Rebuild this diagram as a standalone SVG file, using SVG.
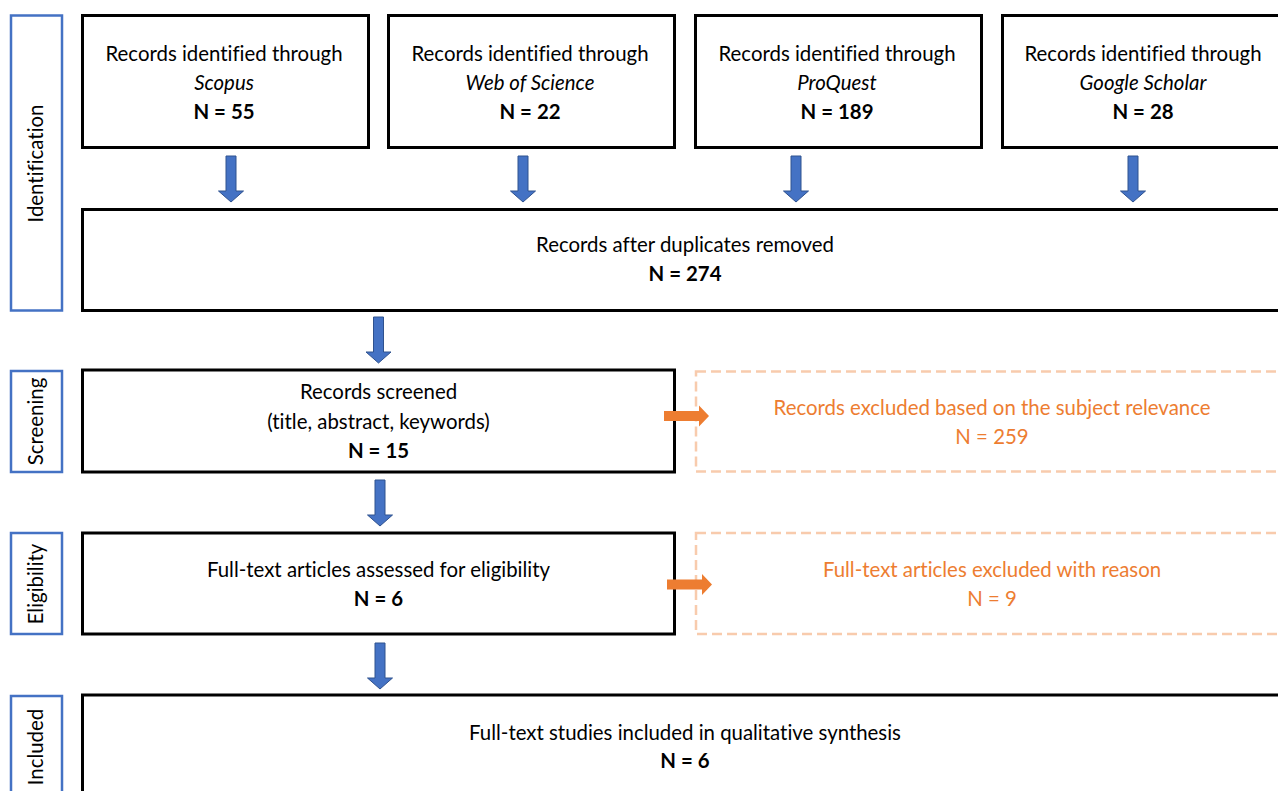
<svg xmlns="http://www.w3.org/2000/svg" width="1278" height="791" viewBox="0 0 1278 791">
  <defs>
    <style>
      .box { fill: #ffffff; stroke: #000000; stroke-width: 3; }
      .phase { fill: #ffffff; stroke: #4472C4; stroke-width: 2.5; }
      .excl { fill: #ffffff; stroke: #F8CBAD; stroke-width: 2.5; stroke-dasharray: 10 5; }
      .t { font-family: Lato, "Open Sans", sans-serif; font-size: 20.4px; fill: #000000; text-anchor: middle; font-variant-ligatures: none; }
      .b { font-weight: bold; }
      .i { font-style: italic; }
      .o { fill: #ED7D31; }
      .down { fill: #4472C4; stroke: #2F528F; stroke-width: 1; }
      .right { fill: #ED7D31; stroke: none; }
    </style>
    <path id="downArrow" d="M-5,0 H5 V35 H12.5 L0,46 L-12.5,35 H-5 Z"/>
    <path id="rightArrow" d="M0,-5 H35 V-10.5 L45,0 L35,10.5 V5 H0 Z"/>
  </defs>
  <rect width="1278" height="791" fill="#ffffff"/>

  <g id="phase-identification">
    <rect class="phase" x="11" y="15.5" width="51" height="295"/>
    <text class="t" transform="translate(43,163.5) rotate(-90)">Identification</text>
  </g>
  <g id="phase-screening">
    <rect class="phase" x="11" y="371" width="51" height="101"/>
    <text class="t" transform="translate(43,421.5) rotate(-90)">Screening</text>
  </g>
  <g id="phase-eligibility">
    <rect class="phase" x="11" y="533" width="51" height="101"/>
    <text class="t" transform="translate(43,584) rotate(-90)">Eligibility</text>
  </g>
  <g id="phase-included">
    <rect class="phase" x="11" y="696" width="51" height="200"/>
    <text class="t" transform="translate(43,747) rotate(-90)">Included</text>
  </g>

  <g id="src-scopus">
    <rect class="box" x="82.5" y="15.5" width="286" height="132"/>
    <text class="t" x="224" y="61">Records identified through</text>
    <text class="t i" x="224" y="90">Scopus</text>
    <text class="t b" x="224" y="119">N = 55</text>
  </g>
  <g id="src-wos">
    <rect class="box" x="388.5" y="15.5" width="286" height="132"/>
    <text class="t" x="530" y="61">Records identified through</text>
    <text class="t i" x="530" y="90">Web of Science</text>
    <text class="t b" x="530" y="119">N = 22</text>
  </g>
  <g id="src-proquest">
    <rect class="box" x="695.5" y="15.5" width="286" height="132"/>
    <text class="t" x="837" y="61">Records identified through</text>
    <text class="t i" x="837" y="90">ProQuest</text>
    <text class="t b" x="837" y="119">N = 189</text>
  </g>
  <g id="src-scholar">
    <rect class="box" x="1002.5" y="15.5" width="286" height="132"/>
    <text class="t" x="1143" y="61">Records identified through</text>
    <text class="t i" x="1143" y="90">Google Scholar</text>
    <text class="t b" x="1143" y="119">N = 28</text>
  </g>

  <g id="dedup">
    <rect class="box" x="82.5" y="209.5" width="1206" height="101"/>
    <text class="t" x="685" y="252">Records after duplicates removed</text>
    <text class="t b" x="685" y="281">N = 274</text>
  </g>

  <g id="screened">
    <rect class="box" x="82.5" y="370" width="592" height="102"/>
    <text class="t" x="378.5" y="399">Records screened</text>
    <text class="t" x="378.5" y="429">(title, abstract, keywords)</text>
    <text class="t b" x="378.5" y="458">N = 15</text>
  </g>
  <g id="excluded-screening">
    <rect class="excl" x="696" y="371.5" width="600" height="100"/>
    <text class="t o" x="992" y="415">Records excluded based on the subject relevance</text>
    <text class="t o" x="992" y="444">N = 259</text>
  </g>

  <g id="eligibility">
    <rect class="box" x="82.5" y="533" width="592" height="101"/>
    <text class="t" x="378.5" y="577">Full-text articles assessed for eligibility</text>
    <text class="t b" x="378.5" y="606">N = 6</text>
  </g>
  <g id="excluded-eligibility">
    <rect class="excl" x="696" y="533" width="600" height="101"/>
    <text class="t o" x="992" y="577">Full-text articles excluded with reason</text>
    <text class="t o" x="992" y="606">N = 9</text>
  </g>

  <g id="included">
    <rect class="box" x="82.5" y="695" width="1206" height="200"/>
    <text class="t" x="685" y="740">Full-text studies included in qualitative synthesis</text>
    <text class="t b" x="685" y="768">N = 6</text>
  </g>

  <g id="connectors">
    <use href="#downArrow" class="down" x="231" y="156"/>
    <use href="#downArrow" class="down" x="523" y="156"/>
    <use href="#downArrow" class="down" x="796" y="156"/>
    <use href="#downArrow" class="down" x="1133" y="156"/>
    <use href="#downArrow" class="down" x="378.5" y="317"/>
    <use href="#downArrow" class="down" x="380" y="480"/>
    <use href="#downArrow" class="down" x="380" y="643"/>
    <use href="#rightArrow" class="right" x="664" y="416"/>
    <use href="#rightArrow" class="right" x="667" y="584.5"/>
  </g>
</svg>
